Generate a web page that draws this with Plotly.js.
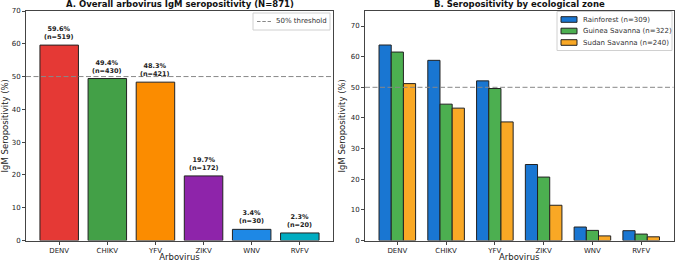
<!DOCTYPE html>
<html>
<head>
<meta charset="utf-8">
<script src="https://cdn.plot.ly/plotly-3.0.1.min.js"></script>
<style>html,body{margin:0;padding:0;background:#fff;}#chart{width:675px;height:262px;}</style>
</head>
<body>
<div id="chart"></div>
<script>
// ---- data ----
const viruses = ["DENV", "CHIKV", "YFV", "ZIKV", "WNV", "RVFV"];
const overallPct = [59.6, 49.4, 48.3, 19.7, 3.4, 2.3];
const overallN = [519, 430, 421, 172, 30, 20];
const overallColors = ["#e53935", "#43a047", "#fb8c00", "#8e24aa", "#1e88e5", "#00acc1"];

const zoneNames = ["Rainforest (n=309)", "Guinea Savanna (n=322)", "Sudan Savanna (n=240)"];
const rainforest = [63.8, 58.8, 52.1, 24.8, 4.4, 3.2];
const guineaSavanna = [61.5, 44.5, 49.6, 20.7, 3.3, 2.1];
const sudanSavanna = [51.2, 43.2, 38.7, 11.5, 1.5, 1.2];
const zoneColors = ["#1976d2", "#4caf50", "#f9a825"];
const threshold = 50;
const thresholdLabel = "50% threshold";

const FONT = "DejaVu Sans";
const W = 675, H = 262;
const px = v => v / W;          // pixel -> paper x
const py = v => 1 - v / H;      // pixel -> paper y
const edge = {color: "#222", width: 1};

const traces = [];
traces.push({
  type: "bar", x: viruses, y: overallPct, xaxis: "x", yaxis: "y",
  marker: {color: overallColors, line: edge}, width: 0.8, showlegend: false,
  hoverinfo: "skip"
});
const zoneData = [rainforest, guineaSavanna, sudanSavanna];
zoneData.forEach((vals, i) => {
  traces.push({
    type: "bar", x: viruses, y: vals, xaxis: "x2", yaxis: "y2", name: zoneNames[i],
    marker: {color: zoneColors[i], line: edge}, showlegend: false, hoverinfo: "skip"
  });
});

const annotations = [];
overallPct.forEach((v, i) => {
  annotations.push({
    xref: "x", yref: "y", x: viruses[i], y: v, yanchor: "bottom", yshift: 2,
    text: "<b>" + v.toFixed(1) + "%<br>(n=" + overallN[i] + ")</b>",
    showarrow: false, font: {family: FONT, size: 6.5, color: "#222"}
  });
});
annotations.push({
  xref: "x domain", yref: "paper", x: 0.5, y: py(11), yanchor: "bottom", yshift: 0,
  text: "<b>A. Overall arbovirus IgM seropositivity (N=871)</b>", showarrow: false,
  font: {family: FONT, size: 8.5, color: "#111"}
});
annotations.push({
  xref: "x2 domain", yref: "paper", x: 0.5, y: py(11), yanchor: "bottom", yshift: 0,
  text: "<b>B. Seropositivity by ecological zone</b>", showarrow: false,
  font: {family: FONT, size: 8.5, color: "#111"}
});

const dashMain = "5px,2.5px";
const shapes = [
  {type: "line", xref: "x domain", yref: "y", x0: 0, x1: 1, y0: threshold, y1: threshold,
   line: {color: "#888", width: 1, dash: dashMain}},
  {type: "line", xref: "x2 domain", yref: "y2", x0: 0, x1: 1, y0: threshold, y1: threshold,
   line: {color: "#888", width: 1, dash: dashMain}}
];

// Legend A (manual, matplotlib style)
shapes.push({type: "rect", xref: "paper", yref: "paper", x0: px(253), x1: px(330), y0: py(13), y1: py(30),
  line: {color: "#d0d0d0", width: 1}, fillcolor: "rgba(255,255,255,0.85)", layer: "above"});
shapes.push({type: "line", xref: "paper", yref: "paper", x0: px(257), x1: px(271), y0: py(21.5), y1: py(21.5),
  line: {color: "#888", width: 1, dash: "3.5px,1.8px"}, layer: "above"});
annotations.push({xref: "paper", yref: "paper", x: px(274), y: py(21.5), xanchor: "left", yanchor: "middle",
  text: thresholdLabel, showarrow: false, font: {family: FONT, size: 7, color: "#333"}});

// Legend B
shapes.push({type: "rect", xref: "paper", yref: "paper", x0: px(557), x1: px(672), y0: py(11.5), y1: py(50.5),
  line: {color: "#d0d0d0", width: 1}, fillcolor: "rgba(255,255,255,0.85)", layer: "above"});
const rowY = [19.5, 31, 42.5];
zoneNames.forEach((name, i) => {
  shapes.push({type: "rect", xref: "paper", yref: "paper", x0: px(561), x1: px(577), y0: py(rowY[i] - 2.8), y1: py(rowY[i] + 2.8),
    line: {color: "#222", width: 1}, fillcolor: zoneColors[i], layer: "above"});
  annotations.push({xref: "paper", yref: "paper", x: px(581), y: py(rowY[i]), xanchor: "left", yanchor: "middle",
    text: name, showarrow: false, font: {family: FONT, size: 7, color: "#333"}});
});

const axisCommon = {
  showline: true, mirror: true, linecolor: "#444", linewidth: 1,
  ticks: "outside", ticklen: 3, tickcolor: "#444", showgrid: false, zeroline: false,
  tickfont: {family: FONT, size: 7, color: "#222"}
};

const layout = {
  width: W, height: H,
  margin: {l: 0, r: 0, t: 0, b: 0},
  paper_bgcolor: "#fff", plot_bgcolor: "#fff",
  barmode: "group", bargap: 0.25, bargroupgap: 0,
  font: {family: FONT, color: "#222"},
  showlegend: false,
  xaxis: Object.assign({}, axisCommon, {domain: [px(26), px(333)], range: [-0.69, 5.69],
    title: {text: "Arbovirus", font: {family: FONT, size: 8.5}, standoff: 1}}),
  yaxis: Object.assign({}, axisCommon, {domain: [py(240.5), py(11)], range: [0, 70], dtick: 10,
    title: {text: "IgM Seropositivity (%)", font: {family: FONT, size: 8.5}, standoff: 3}}),
  xaxis2: Object.assign({}, axisCommon, {anchor: "y2", domain: [px(365), px(673.5)], range: [-0.6625, 5.6625],
    title: {text: "Arbovirus", font: {family: FONT, size: 8.5}, standoff: 1}}),
  yaxis2: Object.assign({}, axisCommon, {anchor: "x2", domain: [py(240.5), py(11)], range: [0, 74.9], dtick: 10,
    title: {text: "IgM Seropositivity (%)", font: {family: FONT, size: 8.5}, standoff: 3}}),
  shapes: shapes,
  annotations: annotations
};

Plotly.newPlot("chart", traces, layout, {displayModeBar: false, staticPlot: true});
</script>
</body>
</html>
